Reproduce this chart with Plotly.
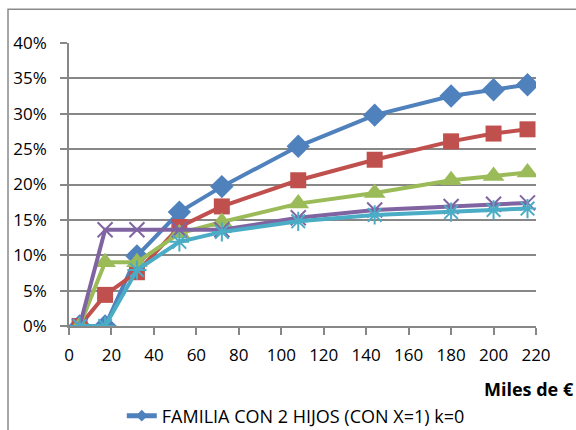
import plotly.graph_objects as go

# Income levels (thousands of euros)
ingresos = [5, 17, 32, 52, 72, 108, 144, 180, 200, 216]

# Effective rate per series (fractions)
serie_k0 = [0.0, 0.0, 0.099, 0.161, 0.197, 0.254, 0.298, 0.325, 0.334, 0.341]
serie_2 = [0.0, 0.044, 0.076, 0.140, 0.169, 0.206, 0.235, 0.261, 0.272, 0.278]
serie_3 = [0.0, 0.090, 0.090, 0.131, 0.147, 0.173, 0.188, 0.206, 0.212, 0.217]
serie_4 = [0.0, 0.136, 0.136, 0.136, 0.136, 0.153, 0.164, 0.169, 0.172, 0.174]
serie_5 = [0.0, 0.0, 0.079, 0.119, 0.133, 0.148, 0.157, 0.161, 0.164, 0.166]

nombre_k0 = "FAMILIA CON 2 HIJOS (CON X=1) k=0"

x_ticks = list(range(0, 221, 20))
y_ticks = [i / 100 for i in range(0, 41, 5)]

FONT = "Open Sans"
GRID = "#878787"
AZUL = "#4F81BD"

fig = go.Figure()

estilos = [
    (serie_k0, AZUL, dict(symbol="diamond", size=18)),
    (serie_2, "#C0504D", dict(symbol="square", size=16)),
    (serie_3, "#9BBB59", dict(symbol="triangle-up", size=19)),
    (serie_4, "#8064A2", dict(symbol="x-thin-open", size=15,
                              line=dict(width=2, color="#8064A2"))),
    (serie_5, "#4BACC6", dict(symbol="asterisk-open", size=16,
                              line=dict(width=2, color="#4BACC6"))),
]

for valores, color, marker in estilos:
    m = dict(color=color)
    m.update(marker)
    fig.add_trace(go.Scatter(
        x=ingresos, y=valores, mode="lines+markers",
        line=dict(color=color, width=4), marker=m, showlegend=False,
    ))

# Legend key for the first series (smaller diamond, as in the key)
fig.add_trace(go.Scatter(
    x=[None], y=[None], mode="lines+markers", name=nombre_k0,
    line=dict(color=AZUL, width=5), marker=dict(symbol="diamond", size=9, color=AZUL),
    showlegend=True,
))

fig.update_layout(
    width=576, height=430,
    margin=dict(l=69, r=40, t=43, b=104, autoexpand=False),
    paper_bgcolor="white", plot_bgcolor="white",
    font=dict(family=FONT, size=17, color="black"),
    showlegend=True,
    legend=dict(orientation="h", x=0.113, xanchor="left", y=-0.318, yanchor="middle",
                font=dict(size=18, family=FONT), bgcolor="rgba(0,0,0,0)",
                tracegroupgap=0),
    xaxis=dict(range=[0, 220], tickvals=x_ticks, showgrid=False,
               showline=True, linecolor=GRID, linewidth=1.5,
               ticks="outside", ticklen=7, tickcolor=GRID, tickwidth=1.5,
               ticklabelstandoff=6,
               zeroline=False, tickfont=dict(size=17, family=FONT)),
    yaxis=dict(range=[0, 0.4], tickvals=y_ticks, tickformat=".0%",
               showgrid=True, gridcolor=GRID, gridwidth=1.5,
               showline=True, linecolor=GRID, linewidth=1.5,
               ticks="outside", ticklen=7, tickcolor=GRID, tickwidth=1.5,
               ticklabelstandoff=10,
               zeroline=False, tickfont=dict(size=17, family=FONT)),
    annotations=[dict(text="<b>Miles de €</b>", xref="paper", yref="paper",
                      x=1.085, y=-0.222, xanchor="right", yanchor="middle",
                      showarrow=False, font=dict(size=18, family=FONT))],
    shapes=[dict(type="rect", xref="paper", yref="paper",
                 x0=-0.1306, x1=1.3, y0=-0.6, y1=1.119,
                 line=dict(color="#8a8a8a", width=1.5), fillcolor="rgba(0,0,0,0)",
                 layer="below")],
)

fig.write_html("out.html")
